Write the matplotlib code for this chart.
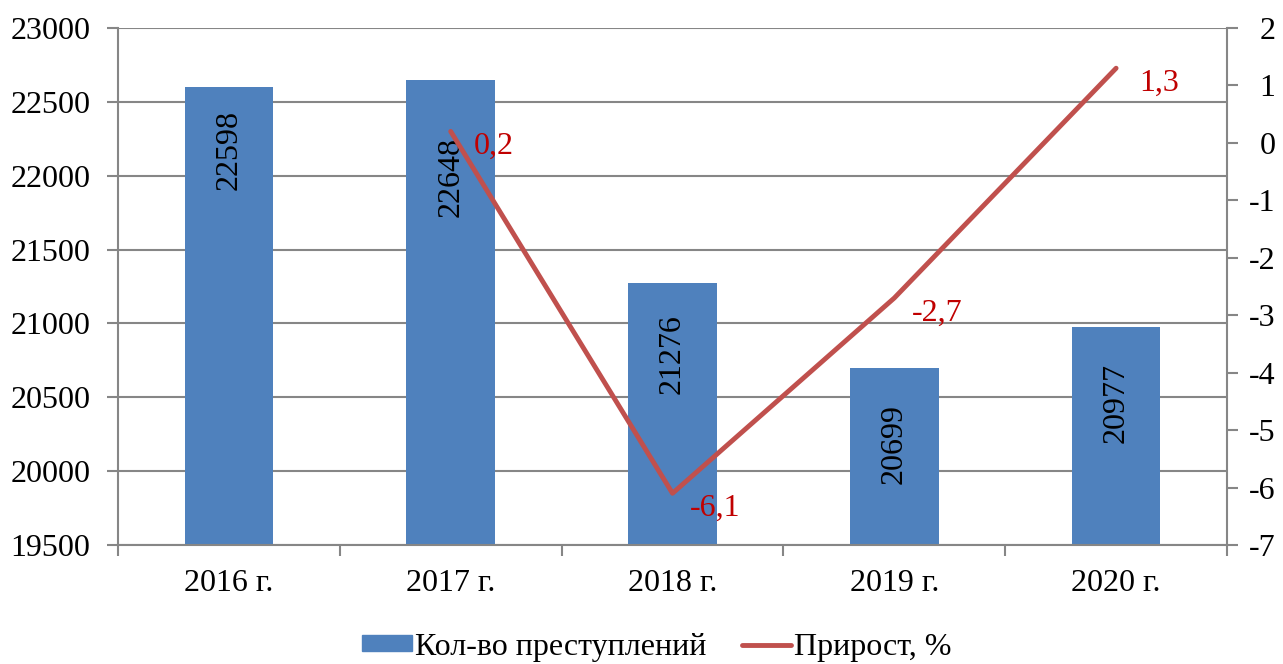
import matplotlib
matplotlib.use("Agg")
import matplotlib.pyplot as plt
import numpy as np
from matplotlib.patches import Patch
from matplotlib.lines import Line2D

# chart data
years = ["2016 г.", "2017 г.", "2018 г.", "2019 г.", "2020 г."]
crimes = [22598, 22648, 21276, 20699, 20977]
growth_years = ["2017 г.", "2018 г.", "2019 г.", "2020 г."]
growth = [0.2, -6.1, -2.7, 1.3]
growth_labels = ["0,2", "-6,1", "-2,7", "1,3"]

BAR = "#4F81BD"
LINE = "#C0504D"
LABEL_RED = "#C00000"
GRID = "#868686"

plt.rcParams["font.family"] = ["Liberation Serif", "DejaVu Serif"]
plt.rcParams["axes.unicode_minus"] = False
FS = 23

fig = plt.figure(figsize=(12.83, 6.64), dpi=100)
ax = fig.add_axes([118 / 1283, 1 - 545 / 664, (1227 - 118) / 1283, (545 - 28) / 664])

x = np.arange(len(years))
ax.bar(x, crimes, width=0.4, color=BAR, zorder=2)
ax.set_xlim(-0.5, len(years) - 0.5)
ax.set_ylim(19500, 23000)
ax.set_yticks(np.arange(19500, 23001, 500))
ax.yaxis.grid(True, color=GRID, lw=1.5, zorder=0)
ax.set_axisbelow(True)

# category ticks at boundaries, labels at centers
ax.set_xticks(np.arange(-0.5, len(years), 1.0))
ax.set_xticklabels([])
ax.set_xticks(x, minor=True)
ax.set_xticklabels(years, minor=True, fontsize=FS)
ax.tick_params(axis="x", which="major", length=8, width=1.5, color=GRID, direction="out")
ax.tick_params(axis="x", which="minor", length=0, pad=17)
ax.tick_params(axis="y", length=8, width=1.5, color=GRID, labelsize=FS, pad=12)

for side in ["top", "right"]:
    ax.spines[side].set_visible(False)
for side in ["left", "bottom"]:
    ax.spines[side].set_color(GRID)
    ax.spines[side].set_linewidth(1.5)

# bar value labels, rotated inside the bar top
pads = [23, 57, 31, 36, 36]
for xi, v, pad in zip(x, crimes, pads):
    ax.annotate(str(v), (xi, v), xytext=(0, -pad * 0.72), textcoords="offset points",
                rotation=90, ha="center", va="top", fontsize=FS, color="black", zorder=3)

# growth line on secondary axis
ax2 = ax.twinx()
gx = [years.index(y) for y in growth_years]
ax2.plot(gx, growth, color=LINE, lw=3.5, solid_capstyle="round", zorder=4)
ax2.set_ylim(-7, 2)
ax2.set_yticks(np.arange(-7, 3, 1))
ax2.tick_params(axis="y", length=8, width=1.5, color=GRID, labelsize=FS, pad=27)
for lbl in ax2.get_yticklabels():
    lbl.set_horizontalalignment("right")
for side in ["top", "left", "bottom"]:
    ax2.spines[side].set_visible(False)
ax2.spines["right"].set_color(GRID)
ax2.spines["right"].set_linewidth(1.5)

for xi, v, lab in zip(gx, growth, growth_labels):
    ax2.annotate(lab, (xi, v), xytext=(31, -11), textcoords="offset points",
                 ha="center", va="center", fontsize=FS, color=LABEL_RED, zorder=5)

# legend
handles = [Patch(facecolor=BAR, edgecolor=BAR),
           Line2D([0], [0], color=LINE, lw=3.5, solid_capstyle="round")]
fig.legend(handles, ["Кол-во преступлений", "Прирост, %"], loc="center",
           bbox_to_anchor=(657 / 1283, 1 - 647 / 664), ncol=2, frameon=False,
           fontsize=FS, handlelength=1.55, handleheight=0.4, handletextpad=0.1,
           columnspacing=1.1)

fig.savefig("out.png", dpi=100)
